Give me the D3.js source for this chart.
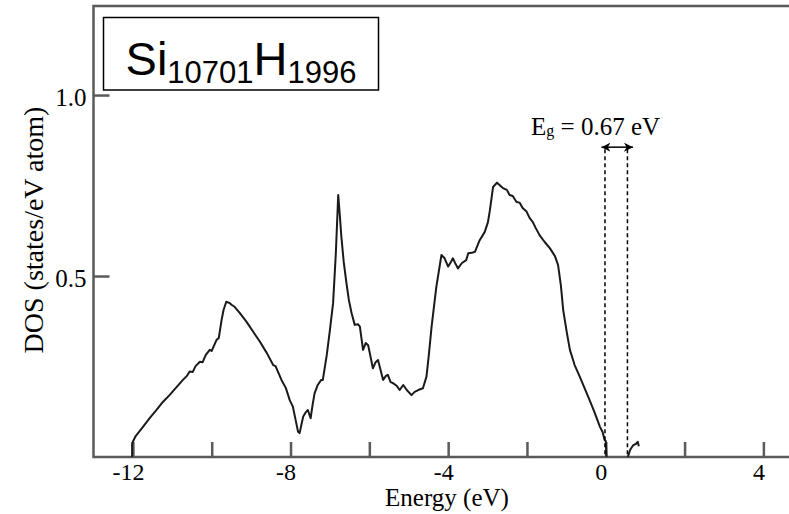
<!DOCTYPE html>
<html>
<head>
<meta charset="utf-8">
<script src="https://cdn.jsdelivr.net/npm/d3@7"></script>
<style>
body { margin: 0; background: #fff; }
text { font-family: "Liberation Serif", "Times New Roman", serif; fill: #000; }
.axis-line { stroke: #5a5a5a; stroke-width: 2.5; fill: none; }
</style>
</head>
<body>
<svg id="chart" width="789" height="514"></svg>
<script>
// DOS of Si10701H1996
var energy = [-12.02, -12.02, -11.93, -11.74, -11.57, -11.40, -11.24, -11.07, -10.91, -10.73,
    -10.63, -10.56, -10.48, -10.41, -10.30, -10.23, -10.15, -10.05, -10.00, -9.88,
    -9.82, -9.75, -9.70, -9.63, -9.54, -9.49, -9.42, -9.29, -9.12, -8.96,
    -8.78, -8.60, -8.44, -8.38, -8.23, -8.12, -8.02, -7.94, -7.87, -7.81,
    -7.77, -7.68, -7.61, -7.56, -7.49, -7.44, -7.39, -7.31, -7.22, -7.18,
    -7.08, -7.01, -6.92, -6.85, -6.79, -6.75, -6.71, -6.65, -6.58, -6.52,
    -6.45, -6.37, -6.29, -6.24, -6.16, -6.09, -6.03, -5.91, -5.84, -5.78,
    -5.65, -5.58, -5.53, -5.46, -5.40, -5.30, -5.23, -5.14, -5.05, -4.93,
    -4.85, -4.76, -4.64, -4.55, -4.49, -4.42, -4.30, -4.17, -4.09, -4.00,
    -3.93, -3.88, -3.81, -3.75, -3.65, -3.54, -3.49, -3.40, -3.32, -3.20,
    -3.07, -2.99, -2.94, -2.86, -2.76, -2.69, -2.61, -2.51, -2.44, -2.36,
    -2.27, -2.18, -2.11, -2.01, -1.93, -1.85, -1.78, -1.68, -1.55, -1.42,
    -1.29, -1.21, -1.14, -1.08, -0.99, -0.91, -0.79, -0.66, -0.53, -0.41,
    -0.28, -0.15, -0.08, -0.03, 0.00, 0.02];
var dos = [0, 0.038, 0.058, 0.084, 0.108, 0.130, 0.152, 0.171, 0.191, 0.213,
    0.224, 0.236, 0.235, 0.251, 0.263, 0.262, 0.282, 0.296, 0.293, 0.323,
    0.329, 0.378, 0.406, 0.429, 0.425, 0.420, 0.415, 0.398, 0.374, 0.348,
    0.319, 0.287, 0.254, 0.251, 0.213, 0.191, 0.157, 0.139, 0.102, 0.070,
    0.066, 0.111, 0.124, 0.130, 0.107, 0.144, 0.176, 0.199, 0.213, 0.213,
    0.282, 0.342, 0.425, 0.563, 0.724, 0.669, 0.609, 0.539, 0.480, 0.434,
    0.397, 0.365, 0.367, 0.360, 0.296, 0.315, 0.309, 0.245, 0.262, 0.268,
    0.213, 0.224, 0.227, 0.207, 0.204, 0.196, 0.185, 0.199, 0.185, 0.171,
    0.180, 0.185, 0.190, 0.222, 0.282, 0.360, 0.470, 0.558, 0.549, 0.526,
    0.539, 0.549, 0.533, 0.521, 0.536, 0.544, 0.563, 0.564, 0.567, 0.599,
    0.622, 0.649, 0.682, 0.746, 0.758, 0.751, 0.743, 0.738, 0.724, 0.721,
    0.705, 0.702, 0.688, 0.678, 0.660, 0.649, 0.633, 0.613, 0.594, 0.577,
    0.555, 0.530, 0.475, 0.406, 0.345, 0.296, 0.254, 0.222, 0.188, 0.157,
    0.122, 0.084, 0.069, 0.047, 0.044, 0];
// conduction band onset
var energyCb = [0.56, 0.62, 0.70, 0.76, 0.81, 0.84];
var dosCb = [0, 0.02, 0.033, 0.036, 0.042, 0.03];

var xTicks = [-12, -10, -8, -6, -4, -2, 0, 2, 4];
var xLabels = [-12, -8, -4, 0, 4];
var yTicks = [0.5, 1.0];
var gapEdges = [-0.02, 0.55];     // dashed lines
var gapArrow = [-0.11, 0.69];     // arrow ends
var gapText = "0.67 eV";

var width = 789, height = 514;
var svg = d3.select("#chart");

var x = d3.scaleLinear().domain([-13, 4.65]).range([93.5, 789]);
var y = d3.scaleLinear().domain([0, 1.246]).range([457, 6]);

// frame: left, top, bottom
svg.append("path")
    .attr("class", "axis-line")
    .attr("d", "M" + width + "," + y(1.246) + "H" + x(-13) + "V" + y(0) + "H" + width);

// x ticks (inward)
var xAxis = d3.axisBottom(x)
    .tickValues(xTicks)
    .tickSizeInner(-15)
    .tickSizeOuter(0)
    .tickFormat(function(d){ return xLabels.indexOf(d) >= 0 ? d : ""; });
var gx = svg.append("g")
    .attr("transform", "translate(0," + y(0) + ")")
    .call(xAxis);
gx.select(".domain").remove();
gx.selectAll(".tick line").attr("stroke", "#5a5a5a").attr("stroke-width", 2.5);
gx.selectAll(".tick text")
    .attr("y", 23)
    .attr("dx", -5)
    .attr("dy", 0)
    .style("font-family", '"Liberation Serif", serif')
    .style("font-size", "24px")
    .attr("fill", "#000");

var yAxis = d3.axisLeft(y)
    .tickValues(yTicks)
    .tickSizeInner(-16)
    .tickSizeOuter(0)
    .tickFormat(d3.format(".1f"));
var gy = svg.append("g")
    .attr("transform", "translate(" + x(-13) + ",0)")
    .call(yAxis);
gy.select(".domain").remove();
gy.selectAll(".tick line").attr("stroke", "#5a5a5a").attr("stroke-width", 2.5);
gy.selectAll(".tick text")
    .attr("x", -7)
    .attr("dy", "0.4em")
    .style("font-family", '"Liberation Serif", serif')
    .style("font-size", "25px")
    .attr("fill", "#000");

// axis titles
svg.append("text")
    .attr("x", 447)
    .attr("y", 506)
    .attr("text-anchor", "middle")
    .style("font-size", "25px")
    .text("Energy (eV)");
svg.append("text")
    .attr("transform", "translate(43,230) rotate(-90)")
    .attr("text-anchor", "middle")
    .style("font-size", "28px")
    .text("DOS (states/eV atom)");

// DOS curve
var line = d3.line()
    .x(function(d){ return x(d[0]); })
    .y(function(d){ return y(d[1]); });
svg.append("path")
    .datum(d3.zip(energy, dos))
    .attr("d", line)
    .attr("fill", "none")
    .attr("stroke", "#1a1a1a")
    .attr("stroke-width", 2)
    .attr("stroke-linejoin", "round");
svg.append("path")
    .datum(d3.zip(energyCb, dosCb))
    .attr("d", line)
    .attr("fill", "none")
    .attr("stroke", "#1a1a1a")
    .attr("stroke-width", 2)
    .attr("stroke-linejoin", "round");

// band gap marks
svg.selectAll(".gap")
    .data(gapEdges)
    .enter().append("line")
    .attr("class", "gap")
    .attr("x1", function(d){ return x(d); })
    .attr("x2", function(d){ return x(d); })
    .attr("y1", y(0.85))
    .attr("y2", y(0))
    .attr("stroke", "#000")
    .attr("stroke-width", 1.5)
    .attr("stroke-dasharray", "4,3");

var defs = svg.append("defs");
defs.append("marker")
    .attr("id", "head")
    .attr("viewBox", "0 0 10 10")
    .attr("refX", 10).attr("refY", 5)
    .attr("markerWidth", 9).attr("markerHeight", 9)
    .attr("markerUnits", "userSpaceOnUse")
    .attr("orient", "auto-start-reverse")
    .append("path")
    .attr("d", "M0,0L10,5L0,10L3,5Z")
    .attr("fill", "#000");
svg.append("line")
    .attr("x1", x(gapArrow[0]))
    .attr("x2", x(gapArrow[1]))
    .attr("y1", y(0.856))
    .attr("y2", y(0.856))
    .attr("stroke", "#000")
    .attr("stroke-width", 1.5)
    .attr("marker-start", "url(#head)")
    .attr("marker-end", "url(#head)");

var eg = svg.append("text")
    .attr("x", 531)
    .attr("y", 135)
    .style("font-size", "25px");
eg.append("tspan").text("E");
eg.append("tspan").style("font-size", "16px").attr("dy", 1).text("g");
eg.append("tspan").attr("dy", -1).text(" = " + gapText);

// formula box
svg.append("rect")
    .attr("x", 103.5).attr("y", 17.5)
    .attr("width", 275).attr("height", 72.5)
    .attr("fill", "#fff")
    .attr("stroke", "#000")
    .attr("stroke-width", 1.5);
var f = svg.append("text")
    .attr("x", 241)
    .attr("y", 75)
    .attr("text-anchor", "middle")
    .style("font-family", '"Liberation Sans", Arial, sans-serif')
    .style("font-size", "47px");
f.append("tspan").text("Si");
f.append("tspan").style("font-size", "31px").attr("dy", 8).text("10701");
f.append("tspan").attr("dy", -8).text("H");
f.append("tspan").style("font-size", "31px").attr("dy", 8).text("1996");
</script>
</body>
</html>
